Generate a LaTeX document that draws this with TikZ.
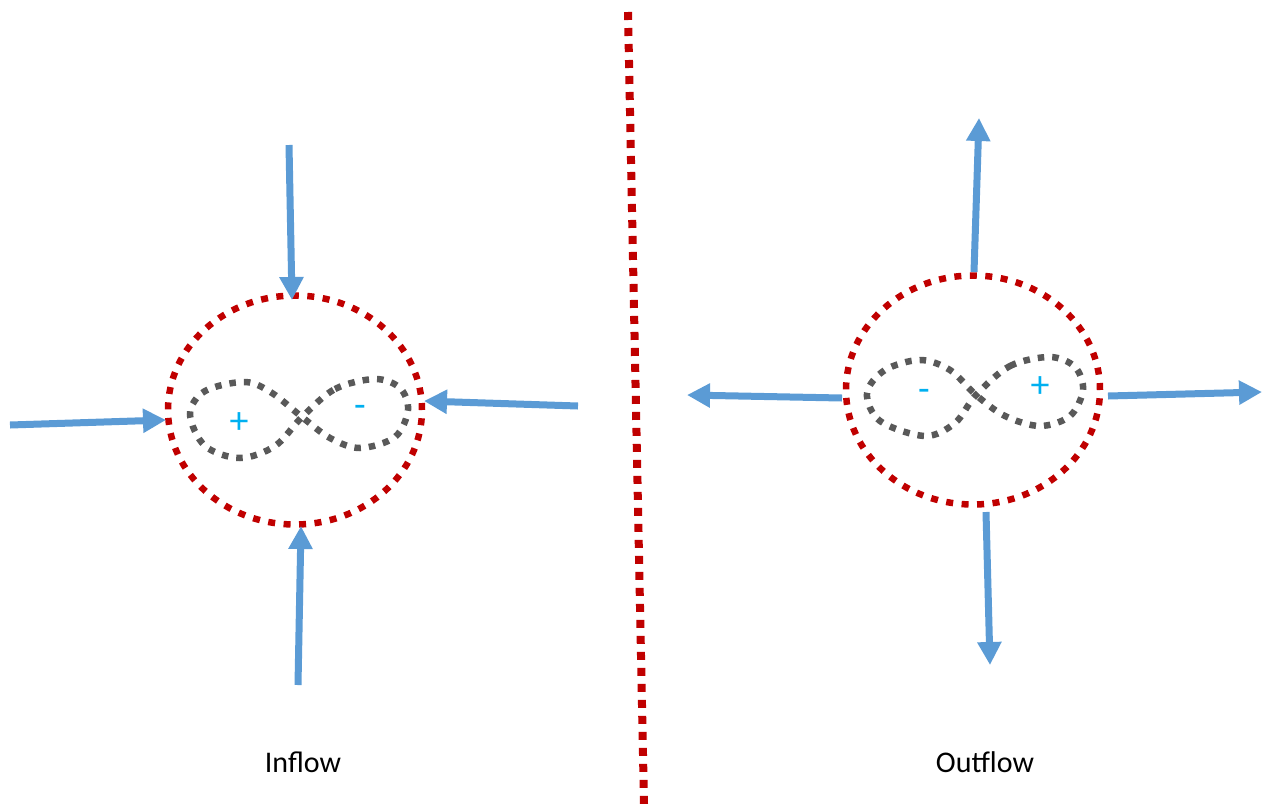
\documentclass[tikz,border=0pt]{standalone}
\usepackage{fontspec}
\setmainfont{Carlito}
\usetikzlibrary{arrows.meta,shapes.geometric}
\definecolor{flowblue}{HTML}{5B9BD5}
\definecolor{darkred}{HTML}{C00000}
\definecolor{loopgray}{HTML}{595959}
\definecolor{signblue}{HTML}{00B0F0}
\tikzset{
  flow/.style={draw=flowblue,line width=7pt,-{Triangle[length=23pt,width=23pt]}},
  ring/.style={ellipse,draw=darkred,line width=6.5pt,dash pattern=on 7pt off 8.5pt,minimum width=254pt,minimum height=229pt,inner sep=0pt},
  loop/.style={draw=loopgray,line width=6.5pt,dash pattern=on 6.5pt off 8pt},
  divider/.style={draw=darkred,line width=8pt,dash pattern=on 8pt off 8pt},
  sign/.style={text=signblue,font=\fontsize{38}{40}\selectfont},
  caption/.style={font=\fontsize{30}{34}\selectfont,anchor=base}
}
\begin{document}
\begin{tikzpicture}[x=1pt,y=-1pt]
\useasboundingbox (0,0) rectangle (1262,804);
% divider
\coordinate (dtop) at (628,12);
\coordinate (dbot) at (644,804);
\draw[divider] (dtop) -- (dbot);
% ---- Inflow ----
\node[ring] (lring) at (295,410) {};
\draw[loop] plot[smooth cycle,tension=0.55] coordinates {(302,417) (335,389) (375,379) (400,388) (408,410) (395,437) (360,448) (330,438) (302,417) (272,393) (245,382) (205,391) (190,414) (205,446) (240,458) (275,446)};
\node[sign] (lplus) at (239,423) {+};
\node[sign] (lminus) at (360,411) {-};
\coordinate (lts) at (289,145);
\coordinate (lte) at (292,300);
\coordinate (lls) at (10,425);
\coordinate (lle) at (166,420);
\coordinate (lrs) at (578,406);
\coordinate (lre) at (424,401);
\coordinate (lbs) at (298,685);
\coordinate (lbe) at (301,526);
\draw[flow] (lts) -- (lte);
\draw[flow] (lls) -- (lle);
\draw[flow] (lrs) -- (lre);
\draw[flow] (lbs) -- (lbe);
\node[caption] (inflow) at (303,772) {Inflow};
% ---- Outflow ----
\node[ring] (rring) at (973,390) {};
\draw[loop] plot[smooth cycle,tension=0.55] coordinates {(976,395) (1010,366) (1050,357) (1075,367) (1083,390) (1070,416) (1040,426) (1005,416) (976,395) (950,370) (920,360) (885,370) (867,393) (880,421) (925,436) (955,423)};
\node[sign] (rminus) at (924,395) {-};
\node[sign] (rplus) at (1040,387) {+};
\coordinate (rts) at (974,272);
\coordinate (rte) at (979,118);
\coordinate (rls) at (842,398);
\coordinate (rle) at (687,395);
\coordinate (rrs) at (1108,396);
\coordinate (rre) at (1262,392);
\coordinate (rbs) at (986,512);
\coordinate (rbe) at (990,665);
\draw[flow] (rts) -- (rte);
\draw[flow] (rls) -- (rle);
\draw[flow] (rrs) -- (rre);
\draw[flow] (rbs) -- (rbe);
\node[caption] (outflow) at (985,772) {Outflow};
\end{tikzpicture}
\end{document}
